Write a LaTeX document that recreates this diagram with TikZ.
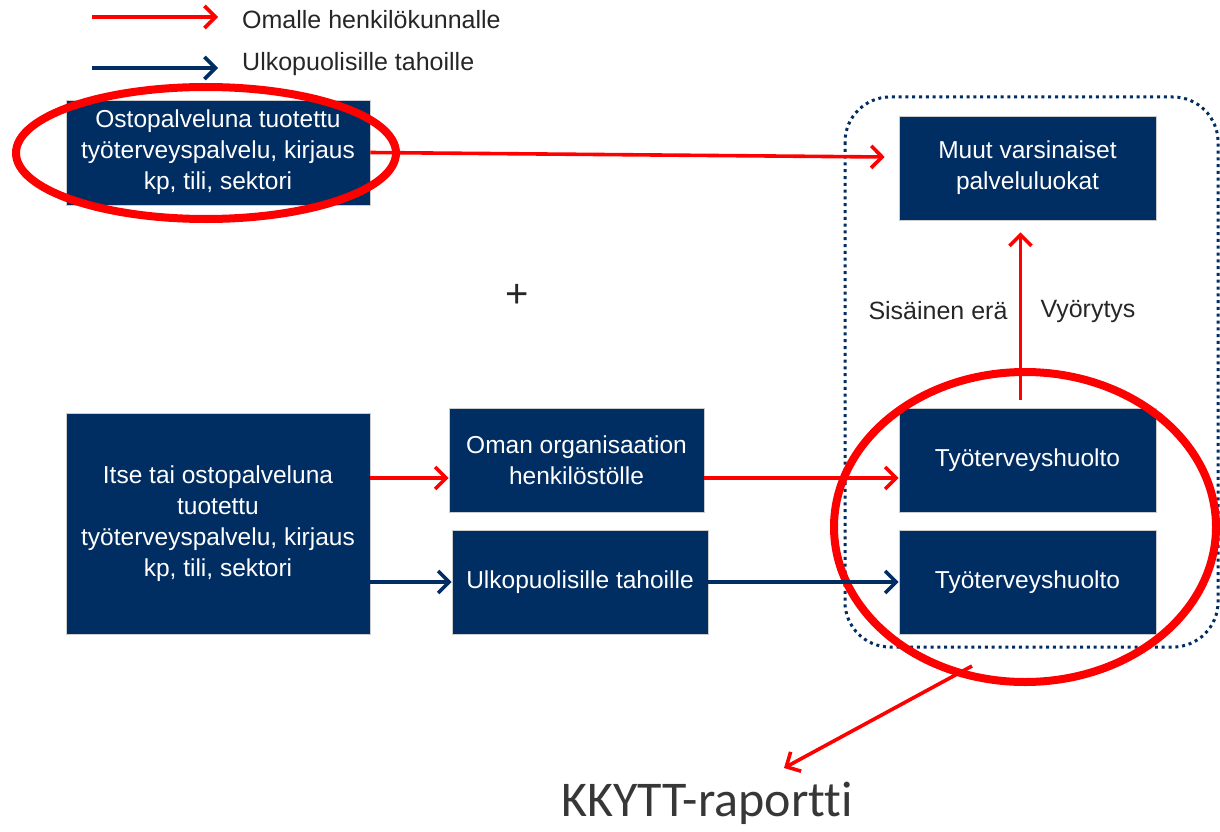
\documentclass[tikz,border=0pt]{standalone}
\usepackage{fontspec}
\setmainfont{Liberation Sans}
\newfontfamily\carlito[Ligatures=NoCommon]{Carlito}
\definecolor{navy}{RGB}{0,45,98}
\definecolor{kkgray}{RGB}{55,55,55}
\usetikzlibrary{arrows.meta,positioning}
\tikzstyle{box}=[draw=gray!40, line width=.6pt, fill=navy, text=white,
  align=center, inner sep=0pt, font=\fontsize{24.5}{31}\selectfont]
\tikzstyle{wide}=[box, minimum width=304pt]
\tikzstyle{mid}=[box, minimum width=256pt, minimum height=104pt]
\tikzstyle{lbl}=[inner sep=0pt, font=\fontsize{25}{31}\selectfont, text=black!85]
\tikzstyle{own}=[-{Straight Barb[length=11pt,width=22pt]}, red, line width=3.6pt]
\tikzstyle{ext}=[own, navy]
\tikzstyle{ring}=[red, line width=8pt]
\tikzstyle{dotbox}=[navy, line width=3pt, dash pattern=on 3pt off 3.8pt,
  rounded corners=45pt]

\begin{document}
\begin{tikzpicture}[x=1pt, y=-1pt]
  \useasboundingbox (0,0) rectangle (1220,832);

  % legend
  \coordinate (lr) at (92,17);
  \coordinate (lb) at (92,68);
  \node[lbl, anchor=west] (lrt) at (242,20) {Omalle henkilökunnalle};
  \node[lbl, anchor=west] (lbt) at (242,64) {Ulkopuolisille tahoille};
  \draw[own] (lr) -- ++(126,0) coordinate (lre);
  \draw[ext] (lb) -- ++(126,0) coordinate (lbe);

  % boxes
  \node[wide, minimum height=105pt] (osto) at (218,152.5)
    {Ostopalveluna tuotettu\\työterveyspalvelu, kirjaus\\kp, tili, sektori};
  \node[wide, minimum height=221pt] (itse) at (218,523.5)
    {Itse tai ostopalveluna\\tuotettu\\työterveyspalvelu, kirjaus\\kp, tili, sektori};
  \node[mid, minimum width=255pt] (oman) at (576.5,460)
    {Oman organisaation\\henkilöstölle};
  \node[mid] (ulko) at (580,582) {Ulkopuolisille tahoille};
  \node[mid, minimum width=257pt] (muut) at (1027.5,168)
    {Muut varsinaiset\\palveluluokat};
  \node[mid, minimum width=257pt] (tth1) at (1027.5,460) {Työterveyshuolto};
  \node[mid, minimum width=257pt] (tth2) at (1027.5,582) {Työterveyshuolto};

  \node[lbl, font=\fontsize{40}{44}\selectfont] (plus) at (517,296) {+};
  \node[lbl] (sis) at (938,311) {Sisäinen erä};
  \node[lbl] (vyo) at (1088,311) {Vyörytys};
  \node[inner sep=0pt, text=kkgray, font=\carlito\fontsize{50}{56}\selectfont]
    (kk) at (707,803) {KKYTT-raportti};

  % dotted group and rings
  \draw[dotbox] (845,97) rectangle (1218,647);
  \draw[ring] (206,153) ellipse (190 and 66);
  \draw[ring] (1025,527) ellipse (191 and 155);

  % connectors
  \coordinate (oin) at ([yshift=-18pt]oman.west);
  \draw[own] (osto.east) -- ([xshift=-14pt, yshift=11pt]muut.west);
  \draw[own] (itse.east |- oin) -- (oin);
  \draw[own] ([yshift=-18pt]oman.east) -- ([yshift=-18pt]tth1.west);
  \draw[ext] (itse.east |- ulko.west) -- (ulko.west);
  \draw[ext] (ulko.east) -- (tth2.west);
  \draw[own] ([xshift=-7pt, yshift=8pt]tth1.north)
    -- ([xshift=-7pt, yshift=-12pt]muut.south);
  \coordinate (kks) at (972,666);
  \coordinate (kke) at (784,768);
  \draw[own] (kks) -- (kke);
\end{tikzpicture}
\end{document}
